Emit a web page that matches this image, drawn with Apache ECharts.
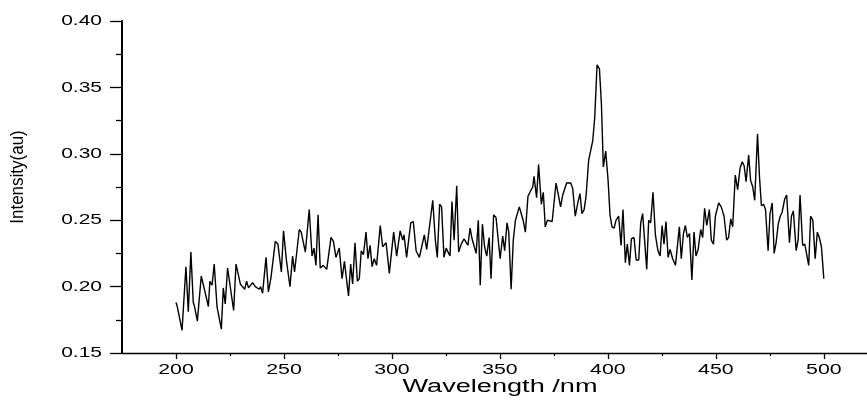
<!DOCTYPE html>
<html>
<head>
<meta charset="utf-8">
<script src="https://cdn.jsdelivr.net/npm/echarts@6/dist/echarts.min.js"></script>
<style>
  html, body { margin: 0; padding: 0; background: #fff; }
  #chart { width: 867px; height: 405px; }
</style>
</head>
<body>
<div id="chart"></div>
<script>
// Emission spectrum: wavelength (nm) and measured intensity (a.u.)
const wavelength = [
  200.0, 200.6, 201.5, 202.8, 204.6, 205.7, 206.9, 208.0, 208.6, 209.9,
  211.7, 213.0, 215.0, 215.7, 216.7, 217.7, 219.0, 221.0, 221.9, 222.8,
  223.9, 225.3, 226.7, 227.8, 228.7, 229.8, 230.8, 231.8, 232.7, 233.6,
  234.5, 235.5, 236.7, 237.6, 238.6, 239.2, 240.1, 241.7, 242.8, 244.0,
  246.0, 247.2, 248.8, 249.8, 251.2, 252.8, 254.0, 254.9, 257.1, 258.0,
  258.9, 259.9, 261.7, 263.0, 263.9, 264.8, 265.8, 266.8, 268.2, 268.8,
  269.8, 271.8, 272.9, 274.1, 275.6, 276.9, 278.0, 279.9, 280.9, 281.8,
  282.9, 284.0, 284.9, 285.8, 286.8, 288.0, 288.9, 289.9, 290.8, 291.8,
  292.9, 294.6, 295.7, 297.3, 298.8, 300.8, 302.2, 303.8, 305.0, 305.6,
  306.8, 308.7, 309.9, 311.2, 312.7, 315.0, 316.1, 318.9, 320.1, 321.0,
  322.1, 323.0, 324.1, 325.1, 326.0, 326.9, 327.8, 328.8, 330.0, 330.9,
  332.1, 333.4, 334.3, 335.2, 336.2, 337.1, 338.0, 339.0, 340.0, 340.9,
  341.9, 342.9, 343.9, 345.0, 345.9, 347.1, 348.2, 350.1, 351.3, 352.2,
  353.3, 354.1, 355.2, 356.2, 357.2, 358.1, 359.0, 360.9, 361.8, 363.0,
  364.2, 365.2, 365.8, 367.0, 367.9, 369.2, 370.1, 371.0, 372.0, 372.9,
  374.2, 376.0, 377.2, 378.1, 379.1, 380.9, 381.8, 382.8, 383.7, 384.9,
  386.2, 387.1, 388.0, 389.0, 389.9, 391.1, 392.0, 393.0, 393.9, 395.0,
  396.1, 397.0, 397.9, 399.0, 400.1, 401.0, 401.9, 402.9, 403.8, 405.0,
  406.1, 407.0, 408.1, 409.0, 410.0, 410.9, 412.1, 413.1, 414.3, 415.2,
  416.1, 417.0, 418.0, 418.9, 419.8, 420.9, 422.0, 423.2, 424.2, 425.1,
  426.0, 426.9, 427.9, 428.8, 430.0, 431.3, 432.2, 433.1, 434.0, 435.0,
  435.9, 436.8, 437.8, 438.9, 439.9, 440.8, 441.8, 443.0, 443.9, 444.8,
  445.8, 447.0, 447.9, 448.9, 449.8, 451.3, 452.5, 453.8, 455.0, 455.9,
  456.9, 457.8, 459.0, 460.1, 461.2, 462.2, 463.1, 464.0, 465.2, 466.1,
  467.1, 468.0, 469.3, 470.2, 471.1, 472.1, 473.0, 474.2, 475.1, 476.1,
  477.0, 477.9, 478.9, 479.8, 480.7, 481.9, 482.8, 484.1, 485.0, 485.9,
  487.2, 488.1, 489.0, 490.2, 491.2, 492.1, 493.0, 493.9, 494.9, 496.0,
  497.0, 497.9, 498.9, 499.5, 500.0
];
const intensity = [
  0.188, 0.185, 0.185, 0.167, 0.215, 0.181, 0.226, 0.188, 0.185, 0.174,
  0.208, 0.199, 0.185, 0.204, 0.201, 0.217, 0.185, 0.168, 0.199, 0.187,
  0.214, 0.198, 0.182, 0.217, 0.218, 0.202, 0.200, 0.198, 0.204, 0.199,
  0.200, 0.203, 0.200, 0.201, 0.198, 0.200, 0.195, 0.222, 0.196, 0.207,
  0.234, 0.232, 0.211, 0.242, 0.219, 0.200, 0.223, 0.211, 0.243, 0.241,
  0.242, 0.226, 0.258, 0.223, 0.229, 0.216, 0.254, 0.214, 0.216, 0.215,
  0.213, 0.237, 0.234, 0.222, 0.229, 0.206, 0.219, 0.193, 0.217, 0.202,
  0.233, 0.204, 0.206, 0.227, 0.224, 0.241, 0.221, 0.231, 0.215, 0.221,
  0.216, 0.246, 0.230, 0.233, 0.210, 0.241, 0.223, 0.242, 0.235, 0.239,
  0.222, 0.248, 0.249, 0.227, 0.222, 0.239, 0.228, 0.265, 0.235, 0.222,
  0.262, 0.260, 0.222, 0.229, 0.226, 0.223, 0.264, 0.235, 0.276, 0.226,
  0.232, 0.236, 0.236, 0.231, 0.244, 0.236, 0.236, 0.225, 0.250, 0.201,
  0.247, 0.230, 0.223, 0.237, 0.206, 0.254, 0.252, 0.221, 0.238, 0.227,
  0.248, 0.241, 0.198, 0.235, 0.250, 0.250, 0.260, 0.249, 0.241, 0.268,
  0.272, 0.275, 0.283, 0.267, 0.292, 0.262, 0.271, 0.245, 0.250, 0.249,
  0.249, 0.278, 0.268, 0.260, 0.269, 0.278, 0.277, 0.278, 0.274, 0.253,
  0.264, 0.270, 0.255, 0.258, 0.268, 0.295, 0.294, 0.310, 0.327, 0.367,
  0.364, 0.338, 0.290, 0.302, 0.280, 0.254, 0.245, 0.244, 0.250, 0.253,
  0.231, 0.258, 0.218, 0.232, 0.216, 0.236, 0.237, 0.220, 0.220, 0.248,
  0.255, 0.235, 0.213, 0.250, 0.248, 0.271, 0.239, 0.227, 0.223, 0.246,
  0.232, 0.249, 0.222, 0.228, 0.221, 0.216, 0.216, 0.245, 0.221, 0.240,
  0.246, 0.237, 0.240, 0.205, 0.241, 0.223, 0.228, 0.243, 0.237, 0.259,
  0.246, 0.258, 0.235, 0.232, 0.253, 0.263, 0.260, 0.253, 0.235, 0.237,
  0.251, 0.245, 0.284, 0.273, 0.289, 0.294, 0.291, 0.279, 0.299, 0.280,
  0.275, 0.265, 0.315, 0.283, 0.261, 0.262, 0.258, 0.227, 0.255, 0.263,
  0.225, 0.233, 0.247, 0.253, 0.256, 0.266, 0.269, 0.233, 0.253, 0.257,
  0.227, 0.235, 0.269, 0.231, 0.232, 0.231, 0.216, 0.253, 0.250, 0.221,
  0.241, 0.237, 0.230, 0.230, 0.206
];

// Axis ticks and their labels
const xMajorTicks = [200, 250, 300, 350, 400, 450, 500];
const xMinorTicks = [225, 275, 325, 375, 425, 475];
const yTickLabels = ['0.15', '0.20', '0.25', '0.30', '0.35', '0.40'];
const xTitle = 'Wavelength /nm';
const yTitle = 'Intensity(au)';

const FONT = '"Liberation Sans", Arial, Helvetica, sans-serif';
const INK = '#000';

const points = wavelength.map((w, i) => [w, intensity[i]]);

const chart = echarts.init(document.getElementById('chart'), null, { renderer: 'canvas' });

chart.setOption({
  animation: false,
  backgroundColor: '#fff',
  grid: { left: 122, right: 0, top: 21, bottom: 52, containLabel: false },
  xAxis: [
    {
      type: 'value', min: 175, max: 520, position: 'bottom',
      axisLine: { show: true, onZero: false, lineStyle: { color: INK, width: 1.3 } },
      axisTick: { show: true, customValues: xMajorTicks, length: 6, inside: false,
                  lineStyle: { color: INK, width: 1.3 } },
      axisLabel: { show: false },
      splitLine: { show: false }
    },
    {
      // shorter ticks halfway between the labelled ones
      type: 'value', min: 175, max: 520, position: 'bottom',
      axisLine: { show: false, onZero: false },
      axisTick: { show: true, customValues: xMinorTicks, length: 3, inside: false,
                  lineStyle: { color: INK, width: 1.3 } },
      axisLabel: { show: false },
      splitLine: { show: false }
    }
  ],
  yAxis: {
    type: 'value', min: 0.15, max: 0.40, interval: 0.05,
    axisLine: { show: true, onZero: false, lineStyle: { color: INK, width: 2 } },
    axisTick: { show: true, length: 12, inside: false, lineStyle: { color: INK, width: 1.3 } },
    minorTick: { show: true, splitNumber: 2, length: 6, lineStyle: { color: INK, width: 1.3 } },
    axisLabel: { show: false },
    splitLine: { show: false },
    minorSplitLine: { show: false }
  },
  series: [{
    type: 'line',
    xAxisIndex: 0,
    data: points,
    symbol: 'none',
    showSymbol: false,
    smooth: false,
    lineStyle: { color: INK, width: 1.4 },
    z: 3
  }]
});

// Tick labels and axis titles, set in a wide face
const texts = [];
xMajorTicks.forEach(v => {
  const px = chart.convertToPixel({ xAxisIndex: 0 }, v);
  texts.push({
    type: 'text', x: px, y: 370, scaleX: 1.42, silent: true,
    style: { text: String(v), font: '15px ' + FONT, fill: INK, align: 'center', verticalAlign: 'middle' }
  });
});
yTickLabels.forEach(t => {
  const py = chart.convertToPixel({ yAxisIndex: 0 }, Number(t));
  texts.push({
    type: 'text', x: 102, y: py, scaleX: 1.4, silent: true,
    style: { text: t, font: '15px ' + FONT, fill: INK, align: 'right', verticalAlign: 'middle' }
  });
});
texts.push({
  type: 'text', x: 500, y: 387, scaleX: 1.55, silent: true,
  style: { text: xTitle, font: '17.5px ' + FONT, fill: INK, align: 'center', verticalAlign: 'middle' }
});
texts.push({
  type: 'text', x: 18, y: 177, rotation: Math.PI / 2, scaleY: 1.1, silent: true,
  style: { text: yTitle, font: '17px ' + FONT, fill: INK, align: 'center', verticalAlign: 'middle' }
});

chart.setOption({ graphic: { elements: texts } });
</script>
</body>
</html>
